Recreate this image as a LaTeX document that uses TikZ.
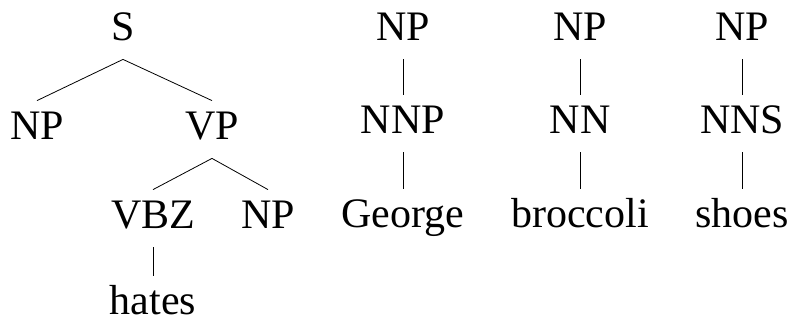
\documentclass[tikz,border=0pt]{standalone}
\usepackage{fontspec}
\setmainfont{Liberation Serif}
\usepackage{tikz}
\usetikzlibrary{positioning}

\begin{document}
\begin{tikzpicture}[x=0.5pt, y=-0.5pt, every node/.style={font=\fontsize{21}{24}\selectfont, anchor=base, inner xsep=0pt, inner ysep=5.5pt, text height=13.5pt, text depth=4pt}]
    \useasboundingbox (0,0) rectangle (791,322);
    % sentence tree
    \node (s) at (123,40) {S};
    \node (np) at (37,139) {NP};
    \node (vp) at (212,139) {VP};
    \node (vbz) at (153,228) {VBZ};
    \node (npobj) at (268,228) {NP};
    \node[text depth=0pt, inner ysep=0pt] (hates) at (153,314) {hates};

    % noun phrase trees
    \node (npg) at (403,40) {NP};
    \node (nnp) at (403,133) {NNP};
    \node (george) at (403,227) {George};
    \node (npb) at (580,40) {NP};
    \node (nn) at (580,133) {NN};
    \node (broccoli) at (580,227) {broccoli};
    \node (nps) at (742,40) {NP};
    \node (nns) at (742,133) {NNS};
    \node (shoes) at (742,227) {shoes};

    \draw (s.south) -- (np.north);
    \draw (s.south) -- (vp.north);
    \draw (vp.south) -- (vbz.north);
    \draw (vp.south) -- (npobj.north);
    \draw[shorten >=5.5pt] (vbz.south) -- (hates.north);
    \draw (npg.south) -- (nnp.north);
    \draw (nnp.south) -- (george.north);
    \draw (npb.south) -- (nn.north);
    \draw (nn.south) -- (broccoli.north);
    \draw (nps.south) -- (nns.north);
    \draw (nns.south) -- (shoes.north);
\end{tikzpicture}
\end{document}
